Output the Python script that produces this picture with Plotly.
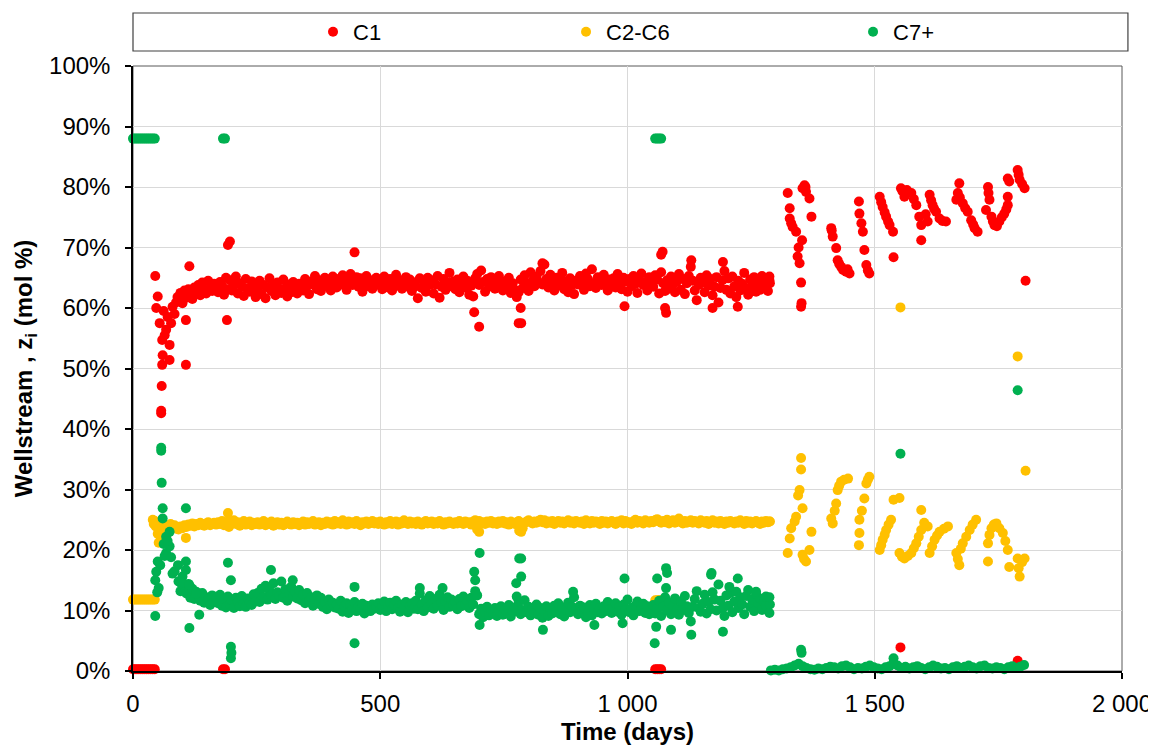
import plotly.graph_objects as go

# ---------------- DATA ----------------
series_names = ["C1", "C2-C6", "C7+"]
series_colors = ["#FF0000", "#FFC000", "#00B050"]

x_tick_vals = [0, 500, 1000, 1500, 2000]
x_tick_text = ["0", "500", "1 000", "1 500", "2 000"]
y_tick_vals = [0, 10, 20, 30, 40, 50, 60, 70, 80, 90, 100]
y_tick_text = ["0%", "10%", "20%", "30%", "40%", "50%", "60%", "70%", "80%", "90%", "100%"]

# main producing period (days)
band_days = [
    92, 96, 100, 104, 108, 112, 116, 120, 124, 128, 132, 136, 140, 144, 148, 152, 156, 160, 164, 168,
    172, 176, 180, 184, 188, 192, 196, 200, 204, 208, 212, 216, 220, 224, 228, 232, 236, 240, 244, 248,
    252, 256, 260, 264, 268, 272, 276, 280, 284, 288, 292, 296, 300, 304, 308, 312, 316, 320, 324, 328,
    332, 336, 340, 344, 348, 352, 356, 360, 364, 368, 372, 376, 380, 384, 388, 392, 396, 400, 404, 408,
    412, 416, 420, 424, 428, 432, 436, 440, 444, 448, 452, 456, 460, 464, 468, 472, 476, 480, 484, 488,
    492, 496, 500, 504, 508, 512, 516, 520, 524, 528, 532, 536, 540, 544, 548, 552, 556, 560, 564, 568,
    572, 576, 580, 584, 588, 592, 596, 600, 604, 608, 612, 616, 620, 624, 628, 632, 636, 640, 644, 648,
    652, 656, 660, 664, 668, 672, 676, 680, 684, 688, 692, 696, 700, 704, 708, 712, 716, 720, 724, 728,
    732, 736, 740, 744, 748, 752, 756, 760, 764, 768, 772, 776, 780, 784, 788, 792, 796, 800, 804, 808,
    812, 816, 820, 824, 828, 832, 836, 840, 844, 848, 852, 856, 860, 864, 868, 872, 876, 880, 884, 888,
    892, 896, 900, 904, 908, 912, 916, 920, 924, 928, 932, 936, 940, 944, 948, 952, 956, 960, 964, 968,
    972, 976, 980, 984, 988, 992, 996, 1000, 1004, 1008, 1012, 1016, 1020, 1024, 1028, 1032, 1036, 1040, 1044, 1048,
    1052, 1056, 1060, 1064, 1068, 1072, 1076, 1080, 1084, 1088, 1092, 1096, 1100, 1104, 1108, 1112, 1116, 1120, 1124, 1128,
    1132, 1136, 1140, 1144, 1148, 1152, 1156, 1160, 1164, 1168, 1172, 1176, 1180, 1184, 1188, 1192, 1196, 1200, 1204, 1208,
    1212, 1216, 1220, 1224, 1228, 1232, 1236, 1240, 1244, 1248, 1252, 1256, 1260, 1264, 1268, 1272, 1276, 1280, 1284, 1288,
]

c1_band = [
    61.2, 62.5, 60.8, 62.9, 61.7, 63.1, 62.2, 61.5, 63.4, 62.6, 63.8, 62.1, 64.2, 63.0, 62.4, 64.5, 63.3, 62.8, 64.0, 63.5,
    62.6, 64.3, 63.7, 62.2, 65.0, 63.1, 64.6, 62.9, 63.8, 65.2, 62.4, 64.1, 63.5, 62.0, 64.8, 63.2, 62.7, 64.4, 63.9, 61.8,
    63.0, 64.5, 62.3, 63.8, 61.6, 63.4, 64.9, 62.8, 63.6, 62.1, 64.2, 63.1, 62.5, 64.7, 63.3, 61.9, 63.9, 62.6, 64.3, 63.2,
    62.4, 64.0, 63.5, 62.9, 64.8, 63.7, 62.3, 64.4, 63.9, 65.3, 63.1, 64.6, 62.8, 64.1, 65.0, 63.6, 64.5, 62.9, 65.2, 64.0,
    63.4, 64.8, 63.9, 65.4, 64.2, 63.0, 64.7, 65.6, 63.8, 64.3, 65.1, 63.5, 64.9, 62.7, 64.0, 65.3, 63.6, 64.6, 63.2, 64.4,
    65.0, 63.9, 64.5, 63.1, 65.2, 64.1, 63.4, 64.8, 62.9, 64.3, 65.5, 63.7, 64.6, 63.2, 64.0, 65.1, 63.5, 64.7, 62.8, 64.2,
    63.6, 61.6, 64.9, 63.3, 64.4, 62.7, 65.0, 63.8, 64.6, 62.4, 63.9, 65.3, 61.7, 63.5, 64.8, 63.0, 64.2, 65.8, 63.6, 64.4,
    63.1, 64.7, 62.6, 64.0, 65.2, 63.4, 64.5, 62.2, 63.7, 61.9, 64.9, 65.6, 63.8, 66.2, 64.3, 62.7, 64.8, 63.5, 65.1, 64.0,
    63.2, 64.6, 65.3, 63.8, 62.9, 64.4, 63.6, 65.0, 62.5, 64.1, 63.0, 61.8, 62.6, 64.7, 63.3, 65.4, 64.0, 62.8, 65.9, 64.5,
    63.6, 65.2, 64.3, 66.1, 63.9, 67.2, 64.8, 63.4, 65.5, 64.1, 62.9, 65.0, 63.7, 64.6, 65.8, 63.1, 64.4, 62.6, 64.9, 63.8,
    62.3, 64.5, 63.9, 65.3, 64.2, 63.0, 65.7, 64.8, 63.6, 66.4, 64.1, 63.3, 65.1, 64.6, 63.8, 65.5, 64.0, 62.9, 64.7, 63.5,
    64.9, 63.4, 65.6, 64.2, 63.1, 65.0, 64.4, 62.7, 64.8, 63.6, 65.3, 64.0, 62.5, 64.6, 65.7, 63.8, 64.3, 62.9, 65.1, 64.0,
    63.5, 65.4, 64.7, 62.4, 65.9, 64.1, 62.8, 64.6, 63.2, 65.2, 63.9, 62.6, 64.4, 65.6, 63.0, 64.8, 62.3, 64.1, 65.3, 66.8,
    64.5, 62.9, 61.3, 63.8, 65.0, 64.2, 62.6, 65.4, 63.7, 64.8, 62.1, 63.5, 65.1, 60.9, 63.3, 64.6, 66.1, 63.0, 64.9, 62.4,
    65.2, 63.6, 61.8, 64.5, 62.9, 64.0, 65.8, 63.3, 62.2, 64.7, 63.5, 65.1, 62.7, 64.2, 63.0, 65.3, 63.9, 64.6, 62.8, 64.1,
]

c26_band = [
    23.4, 23.9, 23.6, 24.1, 23.8, 24.2, 24.0, 24.4, 23.9, 24.3, 24.1, 24.5, 24.2, 24.0, 24.4, 24.6, 24.1, 24.3, 24.5, 24.2,
    24.6, 24.3, 24.8, 24.1, 24.5, 24.7, 24.2, 24.4, 24.9, 24.3, 24.6, 24.0, 24.5, 24.8, 24.2, 24.4, 24.7, 24.1, 24.5, 24.3,
    24.6, 24.2, 24.4, 24.8, 24.1, 24.5, 24.3, 24.7, 24.0, 24.4, 24.6, 24.2, 24.5, 24.1, 24.3, 24.7, 24.4, 24.2, 24.6, 24.3,
    24.5, 24.1, 24.4, 24.7, 24.2, 24.6, 24.3, 24.5, 24.8, 24.2, 24.4, 24.6, 24.1, 24.5, 24.3, 24.7, 24.4, 24.6, 24.2, 24.8,
    24.4, 24.6, 24.3, 24.9, 24.5, 24.2, 24.7, 24.4, 24.6, 24.3, 24.8, 24.5, 24.1, 24.6, 24.4, 24.7, 24.3, 24.5, 24.8, 24.4,
    24.6, 24.3, 24.7, 24.5, 24.2, 24.6, 24.4, 24.8, 24.3, 24.5, 24.7, 24.2, 24.6, 24.4, 24.9, 24.5, 24.3, 24.7, 24.4, 24.6,
    24.3, 24.7, 24.5, 24.2, 24.6, 24.8, 24.4, 24.5, 24.7, 24.3, 24.6, 24.4, 24.8, 24.5, 24.2, 24.6, 24.4, 24.7, 24.5, 24.3,
    24.6, 24.4, 24.8, 24.5, 24.3, 24.7, 24.5, 24.6, 24.2, 24.7, 24.9, 23.4, 24.8, 24.5, 24.6, 24.3, 24.7, 24.5, 24.8, 24.4,
    24.6, 24.3, 24.7, 24.5, 24.8, 24.4, 24.6, 24.2, 24.7, 24.5, 24.3, 24.6, 24.8, 24.4, 23.6, 24.5, 24.7, 24.9, 24.6, 24.4,
    24.7, 24.5, 24.8, 25.0, 24.6, 24.9, 24.4, 24.7, 24.5, 24.8, 24.3, 24.6, 24.8, 24.5, 24.7, 24.4, 24.6, 24.9, 24.5, 24.7,
    24.4, 24.8, 24.6, 24.5, 24.7, 24.3, 24.9, 24.6, 24.4, 24.8, 24.5, 24.7, 24.6, 24.3, 24.8, 24.5, 24.7, 24.4, 24.6, 24.8,
    24.5, 24.3, 24.7, 24.6, 24.9, 24.4, 24.8, 24.5, 24.6, 24.3, 24.7, 25.0, 24.5, 24.8, 24.6, 24.4, 24.9, 24.7, 24.5, 24.8,
    24.6, 24.9, 25.1, 24.7, 24.5, 24.8, 24.6, 25.0, 24.4, 24.7, 24.9, 24.5, 24.8, 25.2, 24.6, 24.4, 24.8, 24.5, 24.7, 24.9,
    24.5, 24.8, 24.6, 24.4, 24.9, 24.7, 24.5, 24.8, 24.3, 24.6, 24.9, 24.5, 24.7, 24.4, 24.8, 24.6, 24.3, 24.7, 24.5, 24.8,
    24.6, 24.4, 24.7, 24.5, 24.9, 24.6, 24.3, 24.8, 24.5, 24.7, 24.4, 24.6, 24.8, 24.5, 24.3, 24.7, 24.5, 24.8, 24.6, 24.7,
]

c7_band = [
    14.8, 13.2, 15.6, 13.9, 12.8, 14.4, 12.1, 13.6, 11.9, 13.1, 12.4, 11.6, 12.9, 11.3, 12.2, 11.8, 10.9, 12.5, 11.4, 12.0,
    11.2, 12.6, 10.8, 11.9, 10.5, 12.3, 11.0, 11.7, 10.4, 12.1, 11.5, 10.7, 12.4, 11.1, 10.6, 12.0, 11.3, 10.9, 12.7, 11.5,
    12.9, 11.4, 13.6, 12.2, 14.1, 11.8, 13.3, 12.6, 14.5, 11.9, 13.0, 12.4, 14.8, 12.1, 13.5, 11.6, 12.8, 13.9, 12.3, 13.1,
    12.0, 13.4, 11.7, 12.6, 11.2, 12.9, 11.5, 12.2, 10.8, 11.9, 12.5, 11.1, 12.1, 10.6, 11.4, 10.2, 11.8, 10.9, 11.3, 10.5,
    11.0, 10.3, 11.6, 9.8, 10.7, 11.2, 9.6, 10.9, 10.1, 11.4, 9.9, 10.6, 10.2, 11.1, 9.5, 10.8, 10.4, 9.9, 11.0, 10.3,
    10.6, 11.2, 10.1, 10.8, 11.5, 9.9, 10.7, 11.3, 10.2, 10.9, 11.6, 10.4, 9.8, 11.0, 10.5, 11.4, 9.7, 10.8, 11.2, 10.3,
    11.6, 10.2, 12.8, 11.0, 9.9, 11.7, 10.5, 12.4, 11.1, 10.3, 11.9, 10.8, 12.6, 11.3, 10.1, 11.5, 12.2, 10.6, 11.8, 10.9,
    11.4, 10.2, 11.9, 10.7, 12.3, 10.9, 11.6, 10.4, 12.1, 11.0, 13.2, 12.5, 9.4, 10.3, 8.9, 9.8, 10.6, 9.2, 10.1, 9.5,
    10.4, 9.1, 9.9, 10.7, 9.3, 10.2, 9.6, 10.9, 9.0, 9.8, 10.5, 12.3, 11.4, 9.4, 10.1, 11.7, 9.7, 10.6, 9.2, 10.3,
    9.6, 11.0, 9.3, 10.4, 8.8, 9.9, 10.7, 9.1, 10.2, 9.5, 10.8, 9.8, 11.2, 9.4, 10.5, 9.0, 10.1, 11.3, 9.7, 10.6,
    12.2, 10.1, 9.4, 10.8, 9.8, 10.5, 8.9, 9.6, 10.9, 9.2, 10.3, 11.1, 9.7, 10.4, 9.5, 10.7, 9.9, 11.4, 10.2, 9.6,
    10.5, 11.2, 9.8, 10.6, 9.3, 11.0, 10.1, 11.8, 9.7, 10.4, 9.2, 10.8, 11.5, 9.9, 10.3, 11.1, 9.6, 10.7, 9.4, 10.2,
    10.9, 9.5, 10.3, 11.6, 9.1, 10.6, 12.2, 10.0, 11.3, 9.4, 10.8, 12.0, 10.2, 9.3, 11.5, 10.1, 12.4, 10.7, 9.6, 8.2,
    10.6, 11.9, 13.2, 10.4, 9.8, 11.1, 12.6, 9.5, 11.4, 10.2, 13.0, 11.8, 10.0, 14.3, 11.6, 10.3, 9.1, 12.5, 10.8, 12.9,
    9.7, 11.5, 13.1, 10.4, 12.2, 11.0, 9.4, 12.4, 13.4, 10.6, 11.8, 9.9, 12.7, 11.2, 12.0, 10.1, 11.5, 10.8, 12.1, 11.0,
]

# shut-in / sampling periods
shutin_days = [0, 4, 8, 12, 16, 20, 24, 28, 32, 36, 40, 44, 182, 186, 1056, 1060, 1064, 1068]
shutin_c1 = [0.3, 0.3, 0.3, 0.3, 0.3, 0.3, 0.3, 0.3, 0.3, 0.3, 0.3, 0.3, 0.3, 0.3, 0.3, 0.3, 0.3, 0.3]
shutin_c26 = [11.8, 11.8, 11.8, 11.8, 11.8, 11.8, 11.8, 11.8, 11.8, 11.8, 11.8, 11.8, 11.8, 11.8, 11.7, 11.7, 11.7, 11.7]
shutin_c7 = [88.0, 88.0, 88.0, 88.0, 88.0, 88.0, 88.0, 88.0, 88.0, 88.0, 88.0, 88.0, 88.0, 88.0, 88.0, 88.0, 88.0, 88.0]

# C1: start-up, outliers and late period
c1_other_days = [
    45, 47, 50, 54, 59, 60, 59, 58, 57, 57, 74, 74, 67, 77, 80, 90, 107, 107, 114, 114, 64, 70, 62, 84, 87,
    192, 196, 190, 448, 700, 690, 780, 785, 784, 994, 828, 1071, 1068, 1078, 1076, 1172, 1223, 1193, 1129, 1287, 1287,
    1324, 1328, 1328, 1334, 1341, 1344, 1348, 1353, 1351, 1351, 1352, 1358, 1361, 1368, 1372, 1354, 1360, 1331, 1346,
    1412, 1415, 1413, 1422, 1425, 1428, 1432, 1436, 1442, 1449, 1445,
    1468, 1469, 1473, 1476, 1479, 1483, 1486, 1489,
    1510, 1513, 1516, 1520, 1523, 1527, 1530, 1537, 1538,
    1553, 1560, 1556, 1565, 1574, 1579, 1584, 1590, 1594, 1594, 1611, 1614, 1617, 1620, 1624, 1631, 1637, 1644, 1607, 1603,
    1671, 1668, 1665, 1672, 1678, 1683, 1688, 1695, 1699, 1702, 1708,
    1729, 1730, 1732, 1725, 1736, 1739, 1742, 1747, 1752, 1757, 1762, 1766, 1769, 1769, 1769, 1772, 1789, 1791, 1793, 1798, 1803,
    1552, 1789, 1805,
]
c1_other_vals = [
    65.3, 60.0, 61.9, 57.5, 54.7, 52.2, 50.6, 47.1, 42.6, 43.0, 51.4, 53.9, 56.4, 57.5, 60.2, 61.8, 58.0, 50.6, 66.9, 62.7, 55.5, 58.5, 59.5, 59.0, 60.9,
    70.4, 71.0, 58.0, 69.2, 56.9, 59.3, 57.5, 57.5, 60.0, 60.3, 67.4, 69.3, 68.8, 59.2, 60.0, 60.0, 60.2, 67.6, 67.9, 65.2, 64.6,
    79.0, 76.5, 74.8, 73.4, 72.6, 68.5, 67.4, 71.2, 64.2, 60.2, 60.8, 80.3, 79.2, 78.1, 75.1, 79.8, 80.0, 74.0, 70.0,
    73.2, 71.8, 72.8, 69.9, 67.9, 67.3, 66.8, 66.3, 66.0, 65.7, 66.4,
    77.6, 75.6, 74.0, 72.6, 69.6, 67.1, 66.2, 65.7,
    78.4, 77.5, 76.7, 75.8, 75.1, 74.3, 73.7, 72.6, 68.4,
    79.8, 78.4, 79.3, 79.5, 79.0, 78.0, 77.0, 75.1, 73.7, 71.2, 78.7, 77.8, 77.0, 76.4, 75.9, 74.8, 74.4, 74.3, 74.3, 75.5,
    80.6, 79.0, 77.9, 78.3, 77.3, 76.5, 75.9, 74.5, 73.8, 73.2, 72.6,
    80.0, 79.0, 77.9, 76.2, 75.1, 74.3, 73.7, 73.5, 74.3, 75.0, 75.6, 76.3, 77.0, 78.4, 81.4, 80.9, 82.8, 82.0, 81.2, 80.5, 79.8,
    3.9, 1.7, 64.5,
]

# C2-C6: start-up, outliers and late period
c26_other_days = [
    40, 42, 44, 46, 48, 50, 52, 54, 56, 60, 64, 68, 72, 76, 80, 84, 88, 107, 192, 194, 700, 785, 781,
    1287, 1324, 1328, 1331, 1338, 1341, 1345, 1348, 1351, 1351, 1354, 1354, 1357, 1361, 1368, 1372,
    1412, 1415, 1419, 1422, 1425, 1428, 1432, 1438, 1446,
    1469, 1469, 1468, 1474, 1479, 1483, 1486, 1489,
    1510, 1513, 1516, 1520, 1523, 1528, 1533, 1538,
    1550, 1555, 1560, 1567, 1574, 1579, 1584, 1589, 1594, 1594, 1600, 1607, 1611, 1616, 1621, 1626, 1631, 1640, 1648,
    1665, 1671, 1668, 1674, 1678, 1685, 1692, 1698, 1705,
    1729, 1729, 1732, 1736, 1741, 1746, 1752, 1759, 1764, 1769, 1772, 1789, 1793, 1791, 1798, 1803, 1805,
    1552, 1789, 1550,
]
c26_other_vals = [
    25.0, 24.3, 24.8, 23.9, 24.6, 22.7, 21.2, 22.4, 23.5, 24.2, 23.1, 24.0, 23.6, 24.3, 23.8, 24.1, 23.5, 22.0, 26.1, 23.8, 23.0, 23.0, 23.2,
    24.7, 19.5, 21.9, 23.6, 24.7, 25.5, 29.0, 29.9, 35.2, 33.3, 26.9, 19.2, 18.5, 18.1, 20.0, 23.0,
    25.2, 24.4, 26.5, 27.7, 29.9, 30.6, 31.3, 31.6, 31.8,
    25.0, 22.8, 20.8, 26.5, 28.5, 31.0, 31.6, 32.1,
    20.0, 20.8, 21.7, 22.5, 23.3, 24.2, 25.0, 28.3,
    19.5, 18.9, 18.6, 19.0, 19.5, 20.3, 21.1, 22.2, 23.3, 26.6, 24.5, 23.9, 19.5, 20.6, 21.7, 22.4, 23.0, 23.5, 23.9,
    19.5, 17.5, 18.5, 20.2, 21.1, 22.2, 23.3, 24.2, 25.0,
    18.1, 21.1, 22.5, 23.6, 24.2, 24.4, 23.6, 22.8, 21.5, 20.0, 17.2, 18.6, 15.6, 17.0, 18.0, 18.6, 33.1,
    60.1, 52.0, 28.6,
]

# C7+: start-up and outliers
c7_other_days = [
    57, 57, 58, 60, 60, 47, 45, 52, 45, 50, 67, 74, 74, 67, 80, 91, 107, 107, 107, 114, 97, 114, 134, 128, 62, 64, 70, 77, 84, 55, 49,
    448, 448, 198, 198, 199, 192, 198, 279, 323, 701, 690, 692, 781, 785, 785, 775, 994, 829, 701, 580, 626, 890, 933, 990,
    1078, 1080, 1078, 1169, 1223, 1206, 1260, 1280, 1129, 1058, 1088, 1193, 1055, 1287, 1287, 1170, 1060,
    1351, 1352, 1552, 1538, 1789,
]
c7_other_vals = [
    36.9, 36.4, 31.1, 26.9, 25.2, 16.4, 15.0, 13.7, 9.1, 18.1, 22.2, 23.0, 20.6, 19.5, 16.1, 17.5, 26.9, 18.1, 16.7, 7.1, 14.5, 14.2, 9.3, 12.8, 21.0, 19.0, 21.5, 18.8, 16.5, 17.5, 13.0,
    13.9, 4.6, 4.0, 2.1, 3.0, 17.9, 15.0, 16.7, 15.0, 19.5, 16.4, 15.0, 18.6, 18.6, 15.6, 14.5, 15.3, 6.8, 7.6, 13.7, 13.7, 13.1, 7.6, 7.9,
    17.0, 16.2, 13.7, 15.9, 15.3, 13.9, 13.1, 12.3, 6.0, 7.3, 6.8, 6.5, 4.6, 12.2, 9.6, 16.2, 15.3,
    3.5, 3.0, 35.9, 2.1, 46.4,
]

# C7+ after the change at ~1290 days
c7_late_days = [
    1290, 1298, 1306, 1314, 1322, 1330, 1338, 1346, 1354, 1362, 1370, 1378, 1386, 1394, 1402, 1410, 1418, 1426, 1434, 1442,
    1450, 1458, 1466, 1474, 1482, 1490, 1498, 1506, 1514, 1522, 1530, 1538, 1546, 1554, 1562, 1570, 1578, 1586, 1594, 1602,
    1610, 1618, 1626, 1634, 1642, 1650, 1658, 1666, 1674, 1682, 1690, 1698, 1706, 1714, 1722, 1730, 1738, 1746, 1754, 1762,
    1770, 1778, 1786, 1794, 1802,
]
c7_late_vals = [
    0.1, 0.2, 0.1, 0.3, 0.4, 0.6, 0.9, 1.2, 0.8, 0.5, 0.3, 0.2, 0.4, 0.3, 0.5, 0.7, 0.6, 0.4, 0.8, 0.9,
    0.6, 0.3, 0.5, 0.4, 0.7, 0.9, 0.6, 0.4, 0.3, 0.6, 0.8, 1.3, 0.9, 0.5, 0.7, 0.4, 0.6, 0.8, 0.5, 0.3,
    0.6, 0.9, 0.7, 0.4, 0.5, 0.3, 0.6, 0.8, 0.5, 0.7, 0.9, 0.6, 0.4, 0.8, 0.9, 0.5, 0.4, 0.6, 0.5, 0.3,
    0.6, 0.8, 0.5, 0.7, 1.0,
]

# ---------------- FIGURE ----------------
series_x = [
    shutin_days + band_days + c1_other_days,
    shutin_days + band_days + c26_other_days,
    shutin_days + band_days + c7_other_days + c7_late_days,
]
series_y = [
    shutin_c1 + c1_band + c1_other_vals,
    shutin_c26 + c26_band + c26_other_vals,
    shutin_c7 + c7_band + c7_other_vals + c7_late_vals,
]
legend_ids = ["legend", "legend2", "legend3"]

FONT = "Liberation Sans, Arial, sans-serif"

fig = go.Figure()
for name, color, xs, ys, lg in zip(series_names, series_colors, series_x, series_y, legend_ids):
    fig.add_trace(go.Scatter(
        x=xs, y=ys, mode="markers", name=name, legend=lg, showlegend=True,
        marker=dict(color=color, size=10, line=dict(width=0)),
        cliponaxis=False,
    ))

legend_common = dict(orientation="h", yanchor="middle", xanchor="left",
                     xref="container", yref="container", y=0.9675,
                     bgcolor="rgba(0,0,0,0)", borderwidth=0,
                     font=dict(family=FONT, size=22, color="black"))

# the page body adds an 8 px offset, so the figure is 8 px smaller than the window
fig.update_layout(
    width=1148, height=738,
    margin=dict(l=125, r=34, t=58, b=75, autoexpand=False),
    showlegend=True,
    plot_bgcolor="white", paper_bgcolor="white",
    font=dict(family=FONT, size=24, color="black"),
    legend=dict(x=0.2657, **legend_common),
    legend2=dict(x=0.4861, **legend_common),
    legend3=dict(x=0.7361, **legend_common),
    xaxis=dict(
        range=[0, 2000], tickvals=x_tick_vals, ticktext=x_tick_text,
        showgrid=True, gridcolor="#d9d9d9", gridwidth=1, zeroline=False,
        showline=True, linecolor="black", linewidth=1.5,
        ticks="outside", ticklen=6, tickcolor="black", tickwidth=1.5,
        ticklabelstandoff=4,
        tickfont=dict(family=FONT, size=24, color="black"),
        automargin=False,
        title=dict(text="<b>Time (days)</b>", font=dict(family=FONT, size=24, color="black"), standoff=8),
    ),
    yaxis=dict(
        range=[0, 100], tickvals=y_tick_vals, ticktext=y_tick_text,
        showgrid=True, gridcolor="#d9d9d9", gridwidth=1, zeroline=False,
        showline=True, linecolor="black", linewidth=1.5,
        ticks="outside", ticklen=6, tickcolor="black", tickwidth=1.5,
        ticklabelstandoff=10,
        tickfont=dict(family=FONT, size=24, color="black"),
        automargin=False,
        title=dict(text="<b>Wellstream , z<sub>i</sub> (mol %)</b>", font=dict(family=FONT, size=24, color="black"), standoff=10),
    ),
    shapes=[
        dict(type="rect", xref="paper", yref="paper", x0=0, x1=1, y0=0, y1=1,
             line=dict(color="#595959", width=1), layer="below"),
        dict(type="rect", xref="paper", yref="paper", x0=0, x1=1.006, y0=1.0248, y1=1.0876,
             line=dict(color="#404040", width=1.2), fillcolor="rgba(0,0,0,0)", layer="above"),
    ],
)

fig.write_html("out.html")
